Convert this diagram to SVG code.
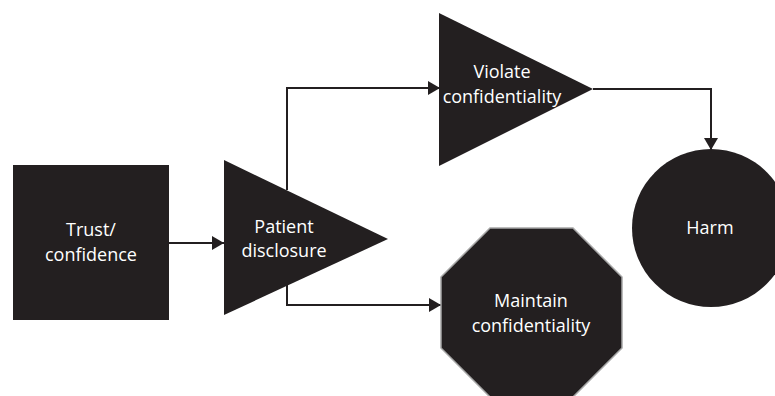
<svg xmlns="http://www.w3.org/2000/svg" width="775" height="396" viewBox="0 0 775 396">
  <style>
    .shape { fill: #231f20; }
    .oct { fill: #231f20; stroke: #a7a7a7; stroke-width: 1.5; }
    .label { fill: #ffffff; font-family: "Open Sans", "Noto Sans", sans-serif; font-size: 18px; text-anchor: middle; }
    .conn { fill: none; stroke: #231f20; stroke-width: 2; }
  </style>
  <defs>
    <marker id="arrow" viewBox="0 0 12 14" refX="12" refY="7" markerWidth="12" markerHeight="14" markerUnits="userSpaceOnUse" orient="auto">
      <path d="M0,0 L12,7 L0,14 Z" fill="#231f20"/>
    </marker>
  </defs>

  <g id="connectors">
    <path class="conn" d="M169,243 L224,243" marker-end="url(#arrow)"/>
    <path class="conn" d="M287,190 L287,88 L440,88" marker-end="url(#arrow)"/>
    <path class="conn" d="M287,285 L287,305 L441,305" marker-end="url(#arrow)"/>
    <path class="conn" d="M593,89 L711,89 L711,150" marker-end="url(#arrow)"/>
  </g>

  <g id="trust">
    <rect class="shape" x="13" y="165" width="156" height="155"/>
    <text class="label" x="91" y="236">Trust/</text>
    <text class="label" x="91" y="261">confidence</text>
  </g>

  <g id="disclosure">
    <polygon class="shape" points="224,160 388,239 224,315"/>
    <text class="label" x="284" y="233">Patient</text>
    <text class="label" x="284" y="257">disclosure</text>
  </g>

  <g id="violate">
    <polygon class="shape" points="439,13 593,89 439,166"/>
    <text class="label" x="502" y="78">Violate</text>
    <text class="label" x="502" y="103">confidentiality</text>
  </g>

  <g id="maintain">
    <polygon class="oct" points="490,228 573,228 622,277 622,348 573,397 490,397 441,348 441,277"/>
    <text class="label" x="531" y="307">Maintain</text>
    <text class="label" x="531" y="332">confidentiality</text>
  </g>

  <g id="harm">
    <circle class="shape" cx="711" cy="228" r="79"/>
    <text class="label" x="710" y="234">Harm</text>
  </g>
</svg>
